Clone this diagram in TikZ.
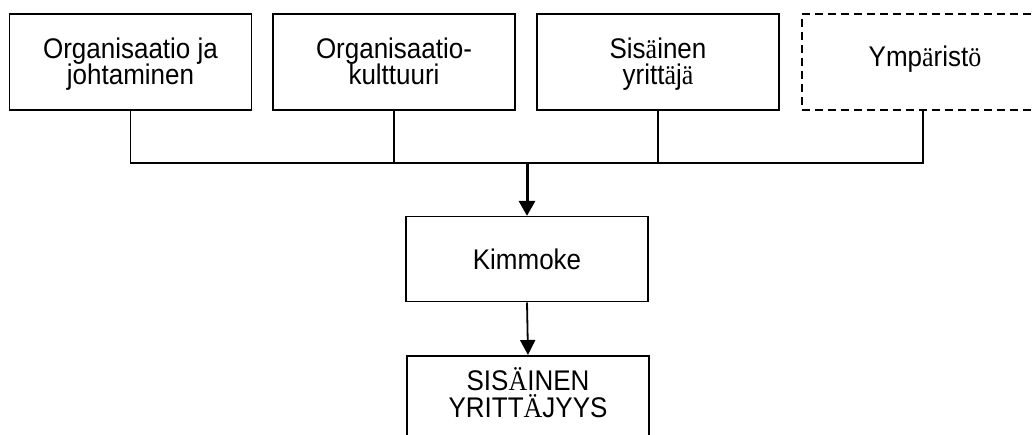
\documentclass[tikz,border=0pt]{standalone}
\usepackage{fontspec}
\setmainfont{Liberation Sans}[FakeStretch=0.915]
\newfontfamily\serifchar{Liberation Serif}[FakeStretch=0.915]
\usetikzlibrary{arrows.meta}
% umlaut letters are set in a serif face
\newcommand{\sr}[1]{{\serifchar #1}}
\begin{document}
\begin{tikzpicture}[x=1pt,y=-1pt,
  lbl/.style={font=\fontsize{28.4}{27}\selectfont, inner sep=0pt, anchor=base},
  box/.style={draw, line width=1.6pt, minimum width=242pt, minimum height=96pt, inner sep=0pt},
  dashbox/.style={box, line width=1.3pt, dash pattern=on 8pt off 5pt},
  conn/.style={line width=1.6pt, line join=miter},
  arrthick/.style={line width=3pt, -{Triangle[length=15pt,width=16pt]}},
  arrthin/.style={line width=1.8pt, -{Triangle[length=15pt,width=15pt]}}]
\useasboundingbox (0,0) rectangle (1033,435);
\clip (0,0) rectangle (1033,435);

% source boxes
\node[box] (org)  at (130.5,62) {};
\node[box] (kult) at (394,62)   {};
\node[box] (yr)   at (658,62)   {};
\node[dashbox] (ymp) at (923,62) {};

% middle and result boxes
\node[box, minimum height=85pt] (kim) at (527,259.2) {};
\node[box, minimum height=110pt, anchor=north] (res) at (528,355) {};

% labels, set on their baselines
\node[lbl] (orgA)  at (130.5,58.3) {Organisaatio ja};
\node[lbl] (orgB)  at (130.5,85)   {johtaminen};
\node[lbl] (kultA) at (394,58.3)   {Organisaatio-};
\node[lbl] (kultB) at (394,85)     {kulttuuri};
\node[lbl] (yrA)   at (658,58.3)   {Sis\sr{ä}inen};
\node[lbl] (yrB)   at (658,85)     {yritt\sr{ä}j\sr{ä}};
\node[lbl] (ympA)  at (925,66.7)   {Ymp\sr{ä}rist\sr{ö}};
\node[lbl] (kimA)  at (527,269.3)  {Kimmoke};
\node[lbl] (resA)  at (528,390)    {SIS\sr{Ä}INEN};
\node[lbl] (resB)  at (528,417.3)  {YRITT\sr{Ä}JYYS};

% collecting bus
\coordinate (bus) at (527,163);
\draw[conn] (org.south) |- (bus) -| (ymp.south);
\draw[conn] (kult.south) -- (kult.south |- bus);
\draw[conn] (yr.south) -- (yr.south |- bus);

% arrows
\draw[arrthick] (bus) -- (kim.north);
\draw[arrthin] (kim.south) -- (res.north);
\end{tikzpicture}
\end{document}
